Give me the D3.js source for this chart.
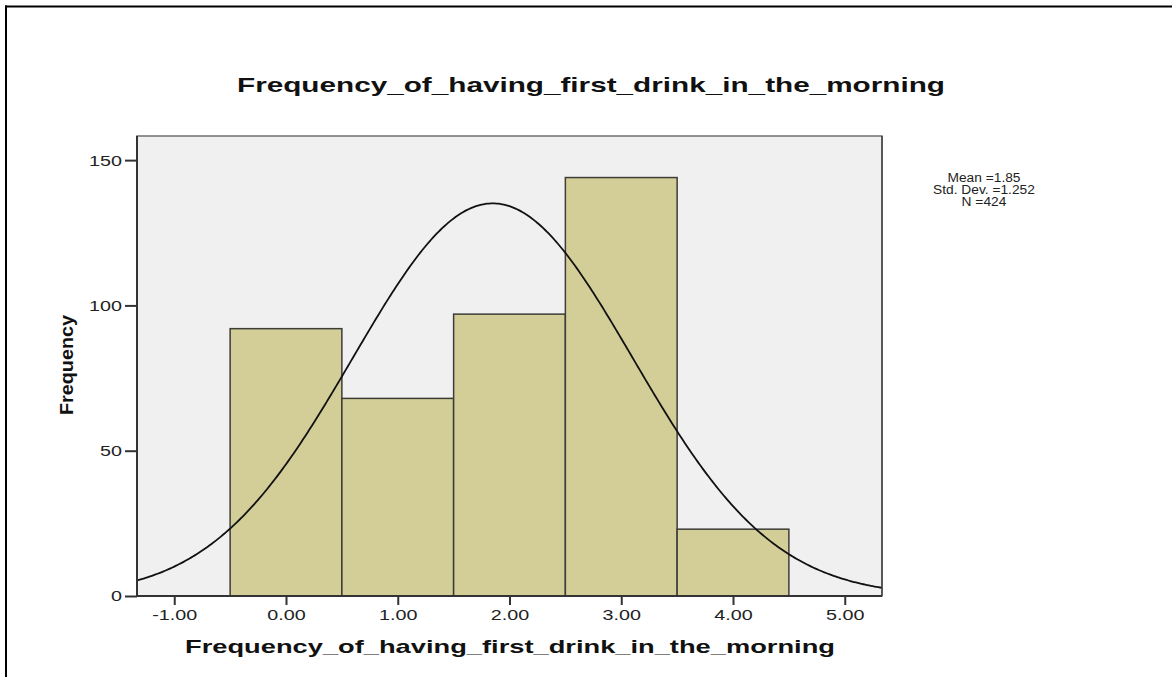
<!DOCTYPE html>
<html>
<head>
<meta charset="utf-8">
<script src="https://cdn.jsdelivr.net/npm/d3@7/dist/d3.min.js"></script>
<style>
  html, body { margin: 0; padding: 0; background: #fff; }
  svg { display: block; }
  text { font-family: "Liberation Sans", Arial, sans-serif; }
</style>
</head>
<body>
<svg id="chart" width="1172" height="677"></svg>
<script>
// ---- data ----
const binCenters = [0, 1, 2, 3, 4];
const binFrequencies = [92, 68, 97, 144, 23];
const binWidth = 1;
const xTicks = [-1, 0, 1, 2, 3, 4, 5];
const xTickLabels = ["-1.00", "0.00", "1.00", "2.00", "3.00", "4.00", "5.00"];
const yTicks = [0, 50, 100, 150];
const statMean = 1.85;
const statSD = 1.252;
const statN = 424;
const legendLines = ["Mean =1.85", "Std. Dev. =1.252", "N =424"];
const chartTitle = "Frequency_of_having_first_drink_in_the_morning";
const xTitle = "Frequency_of_having_first_drink_in_the_morning";
const yTitle = "Frequency";

// ---- layout ----
const svg = d3.select("#chart");
const plot = { left: 137, right: 882, top: 136, bottom: 596 };
const x = d3.scaleLinear().domain([-1.3333, 5.3333]).range([plot.left, plot.right]);
const y = d3.scaleLinear().domain([0, 158.3]).range([plot.bottom, plot.top]);
const SX = 1.36;

function stretch(sel, factor) {
  sel.each(function () {
    const w = this.getComputedTextLength();
    d3.select(this).attr("textLength", w * factor).attr("lengthAdjust", "spacingAndGlyphs");
  });
}

// outer frame (top and left edges)
svg.append("line").attr("x1", 5).attr("x2", 1172).attr("y1", 6.5).attr("y2", 6.5)
  .attr("stroke", "#000").attr("stroke-width", 2);
svg.append("line").attr("x1", 6).attr("x2", 6).attr("y1", 5.5).attr("y2", 677)
  .attr("stroke", "#000").attr("stroke-width", 2);

// plot background
svg.append("rect")
  .attr("x", plot.left).attr("y", plot.top)
  .attr("width", plot.right - plot.left).attr("height", plot.bottom - plot.top)
  .attr("fill", "#f0f0f0").attr("stroke", "#707070").attr("stroke-width", 1.5);

// bars
svg.append("g").selectAll("rect")
  .data(binCenters.map((c, i) => ({ c, f: binFrequencies[i] })))
  .join("rect")
  .attr("x", d => x(d.c - binWidth / 2))
  .attr("width", d => x(d.c + binWidth / 2) - x(d.c - binWidth / 2))
  .attr("y", d => y(d.f))
  .attr("height", d => y(0) - y(d.f))
  .attr("fill", "#d3ce97")
  .attr("stroke", "#3c3c38")
  .attr("stroke-width", 1.5);

// normal curve from the reported statistics
const scaleK = statN * binWidth / (statSD * Math.sqrt(2 * Math.PI));
const xs = d3.range(0, 401).map(i => x.domain()[0] + (x.domain()[1] - x.domain()[0]) * i / 400);
const line = d3.line()
  .x(v => x(v))
  .y(v => y(scaleK * Math.exp(-0.5 * Math.pow((v - statMean) / statSD, 2))));
svg.append("path").datum(xs).attr("d", line)
  .attr("fill", "none").attr("stroke", "#111").attr("stroke-width", 1.8);

// axes lines
svg.append("line").attr("x1", plot.left).attr("x2", plot.left)
  .attr("y1", plot.top).attr("y2", plot.bottom + 1)
  .attr("stroke", "#333").attr("stroke-width", 2);
svg.append("line").attr("x1", plot.left).attr("x2", plot.right)
  .attr("y1", plot.bottom).attr("y2", plot.bottom)
  .attr("stroke", "#333").attr("stroke-width", 2);
svg.append("line").attr("x1", plot.right).attr("x2", plot.right)
  .attr("y1", plot.top).attr("y2", plot.bottom)
  .attr("stroke", "#444").attr("stroke-width", 1.5);

// y axis
const yAxis = d3.axisLeft(y).tickValues(yTicks).tickSize(12).tickPadding(3).tickFormat(d3.format("d"));
const gy = svg.append("g").attr("transform", `translate(${plot.left},0)`).call(yAxis);
gy.select(".domain").remove();
gy.selectAll(".tick line").attr("stroke", "#333").attr("stroke-width", 2);
gy.selectAll(".tick text").attr("font-size", 14.5).attr("fill", "#222")
  .attr("font-family", '"Liberation Sans", Arial, sans-serif').attr("dy", "0.34em");
stretch(gy.selectAll(".tick text"), SX);

// x axis
const xAxis = d3.axisBottom(x).tickValues(xTicks).tickSize(9).tickPadding(5)
  .tickFormat((d, i) => xTickLabels[i]);
const gx = svg.append("g").attr("transform", `translate(0,${plot.bottom})`).call(xAxis);
gx.select(".domain").remove();
gx.selectAll(".tick line").attr("stroke", "#333").attr("stroke-width", 2);
gx.selectAll(".tick text").attr("font-size", 14.5).attr("fill", "#222")
  .attr("font-family", '"Liberation Sans", Arial, sans-serif').attr("dy", "0.71em");
stretch(gx.selectAll(".tick text"), SX);

// titles
function fitText(t, width) {
  t.attr("textLength", width).attr("lengthAdjust", "spacingAndGlyphs");
}
const title = svg.append("text").attr("x", 591).attr("y", 92).attr("text-anchor", "middle")
  .attr("font-size", 21).attr("font-weight", "bold").attr("fill", "#111").text(chartTitle);
fitText(title, 708);

const xt = svg.append("text").attr("x", 510).attr("y", 653).attr("text-anchor", "middle")
  .attr("font-size", 18.5).attr("font-weight", "bold").attr("fill", "#111").text(xTitle);
fitText(xt, 650);

const yt = svg.append("text").attr("transform", "translate(73,365) rotate(-90)")
  .attr("text-anchor", "middle").attr("font-size", 19).attr("font-weight", "bold")
  .attr("fill", "#111").text(yTitle);
fitText(yt, 100);

// stats legend
const lg = svg.append("g");
lg.selectAll("text").data(legendLines).join("text")
  .attr("x", 984).attr("y", (d, i) => 182 + i * 12)
  .attr("text-anchor", "middle").attr("font-size", 12.5).attr("fill", "#222")
  .text(d => d);
stretch(lg.selectAll("text"), 1.1);
</script>
</body>
</html>
